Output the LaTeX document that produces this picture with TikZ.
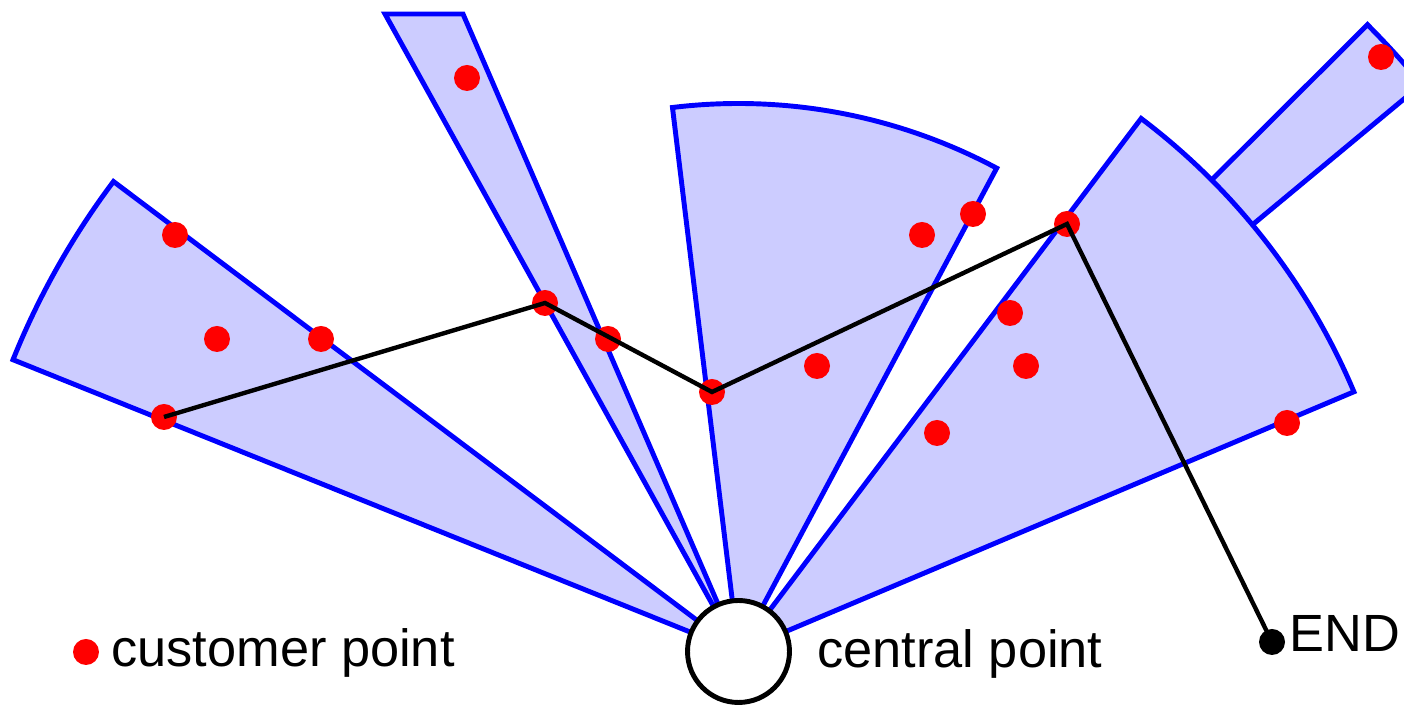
\documentclass[tikz,border=0pt]{standalone}
\usepackage{fontspec}
\setmainfont{Liberation Sans}
\usepackage{tikz}
\usetikzlibrary{positioning}

\tikzset{
  sector/.style={draw=blue, fill=blue!20, line width=2.8pt},
  cust/.style={circle, fill=red, inner sep=0pt, minimum size=0.52cm},
  label/.style={anchor=base west, inner sep=0pt, font=\fontsize{29.8}{35}\selectfont}
}

\begin{document}
\begin{tikzpicture}[x=0.02cm, y=0.02cm]
    \useasboundingbox (0,0) rectangle (1404,705);
    \clip (0,0) rectangle (1404,705);
    \coordinate (o) at (738.5,53.5);

    % sectors round the central point
    \filldraw[sector] (o) -- ++(39.7:888) arc[start angle=39.7, end angle=44.9, radius=888] -- cycle;
    \filldraw[sector] (o) -- ++(143.06:782) arc[start angle=143.06, end angle=158.09, radius=782] -- cycle;
    \filldraw[sector] (o) -- (385,691) -- (463,691) -- cycle;
    \filldraw[sector] (o) -- ++(61.89:548) arc[start angle=61.89, end angle=96.92, radius=548] -- cycle;
    \filldraw[sector] (o) -- ++(22.88:668) arc[start angle=22.88, end angle=52.93, radius=668] -- cycle;

    % customer points
    \foreach \x/\y [count=\i] in {175/470, 217/366, 321/366, 164/288, 467/627, 545/402,
        608/366, 712/313, 817/339, 922/470, 973/491, 1067/481, 1010/392, 1026/339,
        937/272, 1287/282, 1381/648}
        \node[cust] (p\i) at (\x,\y) {};

    \node[circle, fill=black, inner sep=0pt, minimum size=0.52cm] (fin) at (1272,63) {};

    % route
    \draw[line width=2.5pt] (p4.center) -- (p6.center) -- (p8.center) -- (p12.center) -- (fin.center);

    \node[circle, draw, fill=white, line width=2.8pt, minimum size=2.04cm] (central) at (o) {};

    % legend
    \node[cust] (key) at (86,53) {};
    \node[label] at (111,38) {customer point};
    \node[label] at (817,37) {central point};
    \node[label] at (1289,53) {END};
\end{tikzpicture}
\end{document}
